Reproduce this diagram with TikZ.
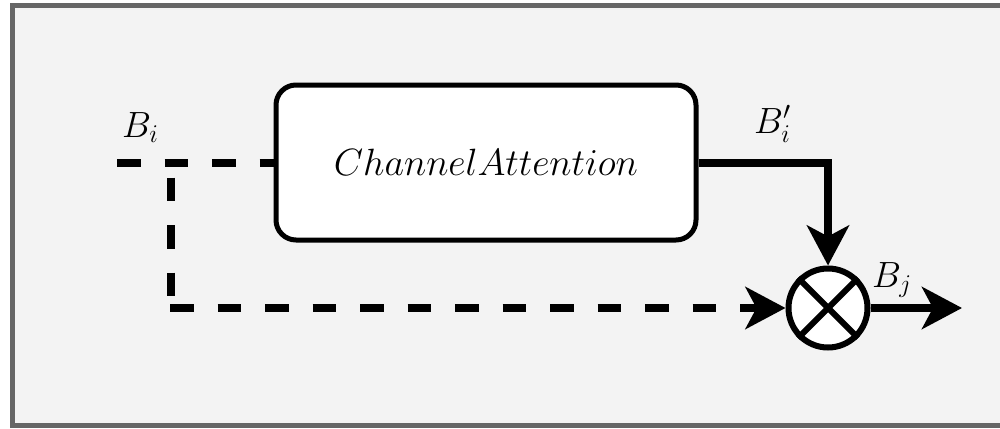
\RequirePackage{fix-cm}
\documentclass[tikz,border=0pt]{standalone}
\usetikzlibrary{arrows.meta}
\definecolor{framegray}{HTML}{666666}
\definecolor{bggray}{HTML}{F3F3F3}
\tikzset{
  conn/.style={line width=7.5pt},
  dashconn/.style={line width=7.5pt, dash pattern=on 23.5pt off 24pt},
  tip/.style={-{Stealth[length=40pt,width=42pt,inset=11pt]}},
  lbl/.style={inner sep=0pt, font=\fontsize{36.5}{40}\selectfont},
}
\begin{document}
\begin{tikzpicture}[x=1pt,y=-1pt]
\useasboundingbox (0,0) rectangle (1000,428);
\fill[white] (0,0) rectangle (1000,428);
\draw[framegray, fill=bggray, line width=5pt] (12.5,5.5) rectangle (1010,425.5);
% main box
\node[draw, line width=5pt, fill=white, rounded corners=20pt, minimum width=420pt, minimum height=155pt, inner sep=0pt,
      font=\fontsize{38}{44}\selectfont] (box) at (486,162.5) {$ChannelAttention$};
% multiplier
\node[draw, circle, line width=6pt, fill=white, minimum size=79pt, inner sep=0pt] (mult) at (828,308) {};
\draw[line width=6pt] (mult.45) -- (mult.225);
\draw[line width=6pt] (mult.135) -- (mult.315);
% coordinates
\coordinate (in) at (117,163);
\coordinate (br) at (171,163);
\coordinate (cn) at (170,308);
\coordinate (out) at (962,308);
% connectors
\draw[dashconn] (in) -- (box.west |- in);
\draw[dashconn, dash phase=33pt] (br) -- (br |- cn);
\draw[dashconn, tip] (cn) -- (mult.west);
\draw[conn, tip] (box.east |- in) -| (mult.north);
\draw[conn, tip] (mult.east) -- (out);
% labels
\node[lbl, anchor=base west] (lbi) at (122,137) {$B_i$};
\node[lbl, anchor=base west] (lbip) at (754,133) {$B_i'$};
\node[lbl, anchor=base west] (lbj) at (872,287) {$B_j$};
\end{tikzpicture}
\end{document}
